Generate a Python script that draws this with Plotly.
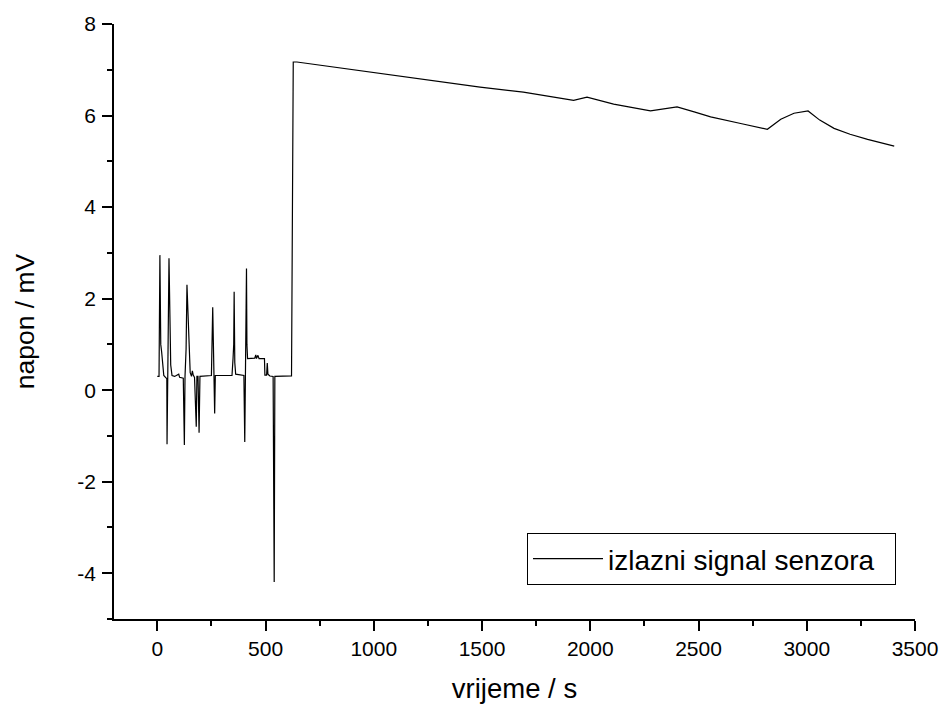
import plotly.graph_objects as go

# vrijeme (s) i napon (mV) - ocitano sa slike
t_spikes = [0, 8, 12, 16, 20, 24, 30, 38, 44, 45, 47, 50, 54, 58, 62, 68, 80, 99, 103, 120,
            125, 128, 133, 137, 142, 146, 152, 158, 162, 166, 172, 180, 183, 188, 193, 197,
            250, 256, 260, 265, 268, 345, 350, 353, 355, 358, 362, 400, 404, 407, 410, 412,
            414, 417, 450, 455, 458, 465, 470, 495, 497, 505, 508, 511, 520, 535, 540, 543,
            620, 625, 628]
u_spikes = [0.30, 0.30, 2.95, 1.00, 0.84, 0.55, 0.32, 0.28, 0.25, -1.18, 0.30, 1.05, 2.88, 1.10,
            0.55, 0.32, 0.30, 0.35, 0.28, 0.26,
            -1.20, 0.30, 0.90, 2.30, 1.55, 0.80, 0.38, 0.30, 0.42, 0.33, 0.28, -0.80, 0.30, 0.30,
            -0.93, 0.30,
            0.32, 1.81, 0.35, -0.51, 0.32, 0.32, 0.70, 1.00, 2.15, 0.60, 0.35, 0.32, -1.13, 0.35,
            0.90, 2.66,
            1.00, 0.69, 0.70, 0.77, 0.69, 0.76, 0.69, 0.69, 0.33, 0.33, 0.59, 0.35, 0.31, 0.30,
            -4.19, 0.30,
            0.31, 5.46, 7.17]

t_decay = [645, 873, 1182, 1491, 1691, 1923, 1985, 2108, 2278, 2401, 2480, 2556, 2700, 2818,
           2880, 2941, 3006, 3060, 3126, 3200, 3281, 3404]
u_decay = [7.17, 7.02, 6.83, 6.62, 6.51, 6.33, 6.40, 6.25, 6.10, 6.19, 6.08, 5.97, 5.82, 5.70,
           5.92, 6.05, 6.10, 5.90, 5.72, 5.59, 5.48, 5.33]

y_ticks = [-4, -2, 0, 2, 4, 6, 8]
y_ticktext = ['-4', '-2', '0', '2', '4', '6', '8']

t = t_spikes + t_decay
u = u_spikes + u_decay

FONT = "Liberation Sans, Arial, sans-serif"

fig = go.Figure()
fig.add_trace(go.Scatter(x=t, y=u, mode='lines', name='izlazni signal senzora\u00a0\u00a0',
                         line=dict(color='black', width=1.2)))

axis_common = dict(showline=True, linecolor='black', linewidth=1.5, showgrid=False, zeroline=False,
                   ticks='outside', ticklen=10, tickwidth=1.5, tickcolor='black', automargin=False,
                   tickfont=dict(family=FONT, size=21, color='black'), mirror=False)

fig.update_layout(
    width=943, height=704,
    margin=dict(l=114, r=28, t=24, b=85),
    paper_bgcolor='white', plot_bgcolor='white',
    font=dict(family=FONT, color='black'),
    showlegend=True,
    legend=dict(x=0.5156, y=0.1008, xanchor='left', yanchor='middle',
                bordercolor='black', borderwidth=1, bgcolor='white',
                font=dict(family=FONT, size=28, color='black'), itemwidth=70),
    xaxis=dict(range=[-200, 3500], dtick=500, tick0=0,
               minor=dict(dtick=250, ticks='outside', ticklen=5, tickcolor='black', tickwidth=1.5),
               title=dict(text='vrijeme / s', font=dict(family=FONT, size=27.5), standoff=20),
               **axis_common),
    yaxis=dict(range=[-5, 8], tickvals=y_ticks, ticktext=y_ticktext, ticklabelstandoff=2,
               minor=dict(dtick=1, ticks='outside', ticklen=5, tickcolor='black', tickwidth=1.5),
               title=dict(text='napon / mV', font=dict(family=FONT, size=26.5), standoff=35),
               **axis_common),
)

# bez margine stranice, da figura stane tocno u prozor
fig.write_html("out.html", config={'displayModeBar': False},
               post_script="document.body.style.margin='0';")
